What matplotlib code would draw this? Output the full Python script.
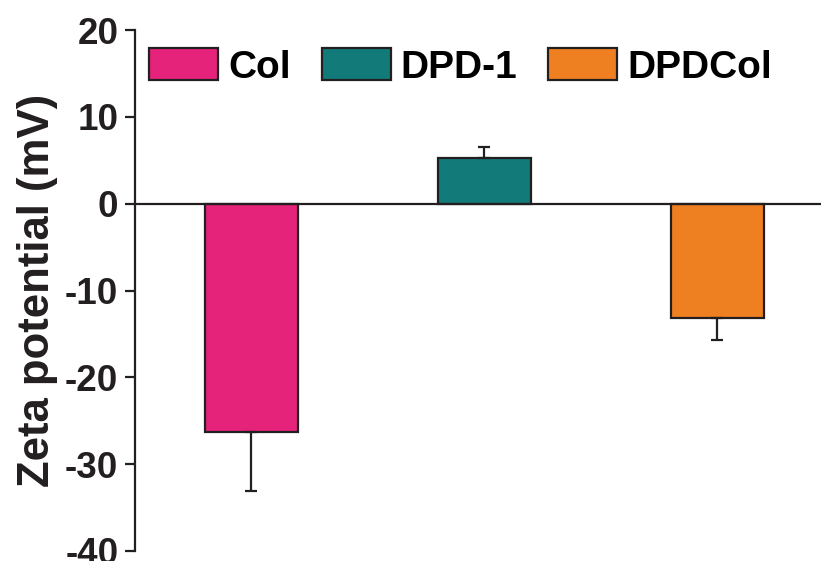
import numpy as np
import matplotlib.pyplot as plt

plt.rcParams['font.family'] = ['Liberation Sans', 'DejaVu Sans']
plt.rcParams['font.weight'] = 'bold'
plt.rcParams['axes.unicode_minus'] = False

# zeta potential of each sample (mV) and standard deviation
samples = ['Col', 'DPD-1', 'DPDCol']
zeta = [-26.3, 5.3, -13.2]
sd = [6.8, 1.2, 2.5]
colors = ['#E6237A', '#127A78', '#EF8022']

ink = '#231F20'

fig = plt.figure(figsize=(8.21, 5.61), dpi=100)
ax = fig.add_axes([135 / 821, 10 / 561, 1 - 135 / 821, 521 / 561])

x = np.arange(len(samples))
# error bars drawn only on the side away from zero
lower = [s if v < 0 else 0 for v, s in zip(zeta, sd)]
upper = [s if v >= 0 else 0 for v, s in zip(zeta, sd)]

bars = ax.bar(x, zeta, width=0.4, color=colors, edgecolor=ink, linewidth=1.6,
              yerr=[lower, upper], label=samples,
              error_kw=dict(ecolor=ink, elinewidth=1.6, capsize=4, capthick=1.6),
              zorder=2)
ax.axhline(0, color=ink, linewidth=1.6, zorder=3)

ax.set_xlim(-0.5, 2.445)
ax.set_ylim(-40, 20)
ax.set_yticks([-40, -30, -20, -10, 0, 10, 20])
ax.set_xticks([])
for side in ['top', 'right', 'bottom']:
    ax.spines[side].set_visible(False)
ax.spines['left'].set_linewidth(1.6)
ax.spines['left'].set_color(ink)
ax.tick_params(axis='y', length=7, width=1.6, color=ink, pad=5,
               labelsize=26.5, labelcolor=ink)
for lbl in ax.get_yticklabels():
    lbl.set_fontweight('bold')

ax.set_ylabel('Zeta potential (mV)', fontsize=31.5, fontweight='bold',
              color=ink, labelpad=5)

leg = ax.legend(bars, samples, loc='center left',
                bbox_to_anchor=(149 / 821, 1 - 67 / 561),
                bbox_transform=fig.transFigure,
                ncol=3, frameon=False, fontsize=28, handlelength=1.77,
                handleheight=0.87, handletextpad=0.26, columnspacing=0.8,
                borderaxespad=0, borderpad=0)
for t in leg.get_texts():
    t.set_fontweight('bold')
    t.set_color('black')

fig.savefig('out.png', dpi=100)
